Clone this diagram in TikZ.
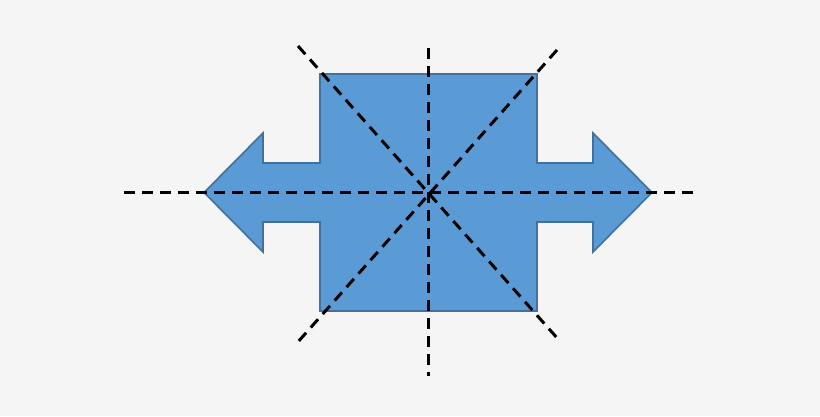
\documentclass[tikz,border=0pt]{standalone}
\definecolor{bg}{HTML}{F5F5F5}
\definecolor{shapefill}{HTML}{5B9BD5}
\definecolor{shapeedge}{HTML}{41719C}
\begin{document}
\begin{tikzpicture}[x=1pt,y=-1pt,
  shapestyle/.style={fill=shapefill,draw=shapeedge,line width=1.6pt,line join=miter},
  axisline/.style={draw=black,line width=3pt,dash pattern=on 11pt off 7pt}]
\fill[bg] (0,0) rectangle (820,416);
\useasboundingbox (0,0) rectangle (820,416);
\draw[shapestyle] (320,74) -- (537,74) -- (537,163) -- (593,163) -- (593,133) -- (652,192.5)
  -- (593,252) -- (593,222) -- (537,222) -- (537,311) -- (320,311) -- (320,222) -- (263,222)
  -- (263,252) -- (204,192.5) -- (263,133) -- (263,163) -- (320,163) -- cycle;
\coordinate (h1) at (124,192.5);
\coordinate (h2) at (694,192.5);
\coordinate (v1) at (428,48);
\coordinate (v2) at (428,376);
\coordinate (d1) at (298,46);
\coordinate (d2) at (558,339);
\coordinate (e1) at (557,50);
\coordinate (e2) at (297,343);
\draw[axisline] (h1) -- (h2);
\draw[axisline] (v1) -- (v2);
\draw[axisline] (d1) -- (d2);
\draw[axisline] (e1) -- (e2);
\end{tikzpicture}
\end{document}
